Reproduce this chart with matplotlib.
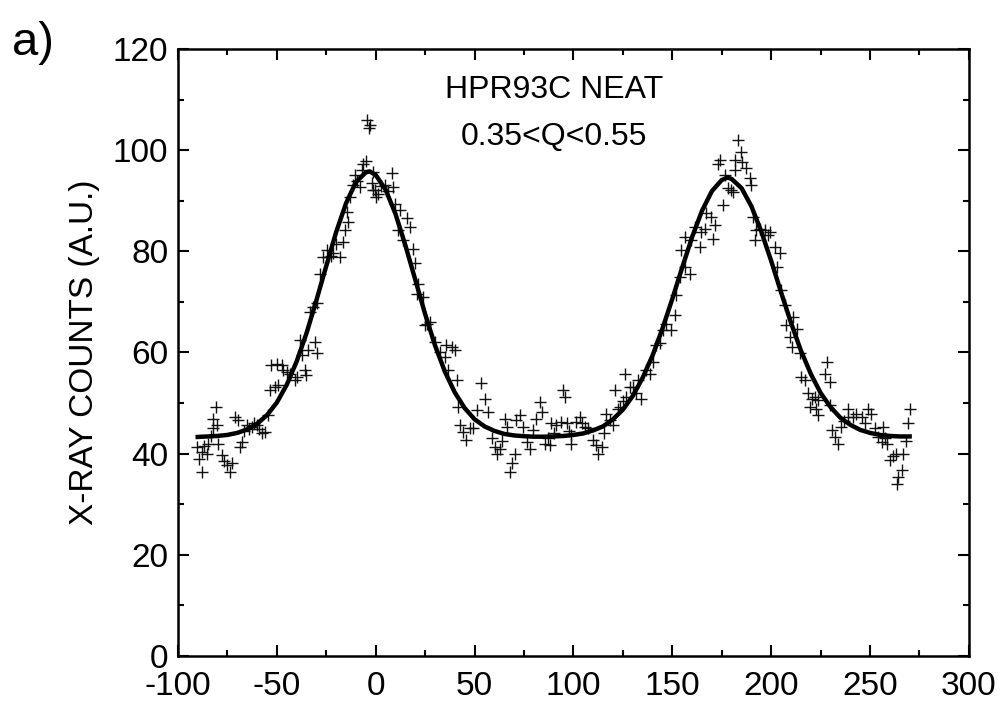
import matplotlib
matplotlib.use("Agg")
import matplotlib.pyplot as plt
from matplotlib.ticker import MultipleLocator

plt.rcParams['font.family'] = ['Liberation Sans', 'DejaVu Sans']
plt.rcParams['axes.unicode_minus'] = False

# measured points (scan angle, counts)
scan_x = [
    -90.6, -89.5, -88.0, -88.0, -86.8, -85.5, -84.7, -83.5, -82.1, -82.1,
    -80.8, -80.5, -79.6, -77.9, -76.5, -75.4, -73.7, -72.9, -71.2, -69.5,
    -68.7, -67.8, -66.5, -65.3, -64.0, -62.8, -61.5, -60.2, -59.0, -57.7,
    -56.0, -54.3, -53.5, -52.7, -51.0, -50.1, -49.3, -47.6, -46.8, -45.1,
    -43.4, -40.9, -40.0, -38.3, -37.5, -35.8, -35.0, -34.1, -33.3, -31.6,
    -30.7, -29.9, -29.9, -28.2, -26.5, -24.8, -24.0, -22.8, -21.5, -20.0,
    -18.1, -16.4, -15.6, -14.7, -13.9, -13.1, -11.4, -10.5, -9.5, -8.0,
    -7.0, -6.3, -5.0, -4.4, -3.5, -2.9, -2.0, -1.3, -1.2, -0.4,
    0.4, 1.3, 2.5, 4.7, 6.0, 8.0, 8.9, 9.7, 11.4, 12.2,
    13.9, 15.6, 17.3, 19.0, 19.8, 20.7, 21.5, 24.0, 24.9, 25.7,
    27.5, 30.0, 32.5, 35.0, 35.8, 36.7, 38.4, 40.0, 40.9, 41.7,
    42.6, 44.3, 45.9, 47.6, 49.3, 51.0, 53.5, 55.2, 56.9, 58.6,
    60.3, 61.1, 62.8, 64.0, 65.3, 66.2, 67.8, 68.7, 70.4, 71.2,
    72.9, 74.6, 76.3, 77.9, 79.6, 81.3, 83.0, 83.9, 85.5, 87.0,
    88.1, 88.9, 90.0, 91.4, 93.9, 94.8, 95.6, 96.5, 97.5, 99.0,
    99.0, 101.5, 103.2, 104.1, 105.7, 107.4, 109.9, 111.6, 112.5, 114.2,
    115.5, 116.7, 118.4, 120.1, 120.9, 122.6, 123.4, 125.0, 126.0, 126.8,
    128.5, 130.2, 131.5, 132.7, 134.4, 136.9, 138.6, 140.3, 142.0, 143.7,
    145.3, 147.0, 149.5, 151.2, 152.1, 153.8, 154.6, 156.3, 156.3, 158.8,
    159.7, 161.3, 163.9, 164.7, 166.4, 167.2, 169.8, 170.6, 171.5, 173.1,
    174.0, 175.7, 176.5, 178.0, 179.9, 180.7, 181.6, 181.6, 183.1, 184.6,
    185.0, 187.5, 189.2, 190.0, 190.9, 191.7, 192.5, 194.3, 196.8, 198.5,
    199.3, 201.8, 202.7, 204.4, 205.2, 206.9, 207.7, 209.4, 210.3, 211.1,
    212.8, 214.5, 215.3, 217.0, 218.7, 219.5, 220.4, 222.1, 222.9, 223.7,
    223.7, 227.1, 228.0, 229.6, 229.6, 230.5, 232.2, 233.9, 235.5, 237.0,
    238.9, 238.9, 241.4, 243.1, 245.7, 247.3, 249.0, 250.7, 252.5, 254.1,
    255.8, 256.6, 257.4, 258.5, 260.0, 261.5, 263.3, 263.5, 264.2, 265.9,
    266.7, 268.0, 269.2, 270.1,
]
counts = [
    41.3, 39.0, 40.4, 36.4, 41.5, 40.0, 42.0, 43.5, 45.0, 46.9,
    49.3, 45.6, 42.0, 39.7, 38.5, 37.7, 36.4, 38.1, 47.3, 46.6,
    41.3, 42.3, 44.5, 45.6, 44.8, 45.3, 46.0, 45.6, 44.8, 44.0,
    44.3, 47.6, 52.5, 57.5, 53.2, 57.8, 53.5, 57.5, 56.5, 56.2,
    55.8, 54.5, 55.2, 62.4, 59.5, 56.5, 55.5, 60.5, 68.0, 69.0,
    62.1, 59.8, 69.7, 75.6, 78.9, 80.2, 78.9, 79.0, 79.6, 81.5,
    78.9, 81.9, 84.2, 87.8, 85.8, 90.8, 93.1, 95.0, 94.0, 92.7,
    96.0, 97.3, 97.8, 105.9, 104.3, 105.0, 93.5, 92.1, 95.7, 92.1,
    90.8, 91.4, 93.0, 93.1, 92.0, 95.4, 92.7, 89.4, 84.2, 88.1,
    82.2, 86.5, 84.8, 80.5, 77.6, 71.6, 73.6, 71.0, 65.4, 65.7,
    66.0, 62.0, 60.0, 59.1, 61.4, 56.5, 61.1, 60.5, 54.5, 49.3,
    45.6, 44.3, 42.7, 45.0, 45.0, 48.6, 53.9, 50.9, 48.3, 43.0,
    41.3, 40.0, 41.0, 42.5, 46.9, 45.3, 36.4, 38.1, 40.0, 46.6,
    47.6, 45.3, 42.3, 41.0, 44.6, 46.9, 50.2, 48.3, 42.0, 43.0,
    41.7, 46.0, 44.0, 45.6, 46.3, 52.5, 51.2, 46.0, 44.5, 43.7,
    42.0, 46.3, 47.3, 46.0, 45.3, 45.0, 42.7, 41.7, 40.0, 41.3,
    44.0, 47.9, 46.6, 45.6, 52.5, 48.9, 49.3, 50.5, 55.8, 51.2,
    53.2, 53.2, 52.0, 54.5, 50.9, 56.5, 55.8, 58.1, 61.4, 61.8,
    64.4, 65.7, 64.4, 67.4, 71.3, 74.9, 80.2, 76.9, 82.8, 75.6,
    82.2, 84.8, 80.9, 83.8, 84.5, 87.5, 86.8, 82.5, 85.2, 97.3,
    98.0, 89.1, 95.0, 92.5, 92.1, 91.7, 96.0, 98.0, 102.0, 99.6,
    97.7, 96.4, 94.4, 93.1, 86.8, 82.2, 84.2, 84.5, 84.2, 83.2,
    83.8, 80.9, 76.9, 79.6, 72.3, 69.3, 65.4, 63.1, 61.1, 67.0,
    64.7, 59.8, 55.2, 54.5, 51.9, 49.3, 50.9, 51.2, 48.9, 50.6,
    47.6, 55.8, 58.1, 54.2, 49.6, 44.6, 43.3, 42.0, 45.3, 46.5,
    48.9, 47.3, 47.3, 47.9, 47.3, 46.0, 48.9, 47.9, 45.0, 43.3,
    42.3, 45.3, 43.0, 42.0, 38.7, 39.5, 40.0, 34.0, 35.4, 36.7,
    40.0, 42.5, 46.0, 48.9,
]

# fitted curve
fit_x = [-90, -85, -80, -75, -70, -65, -60, -55, -50, -45, -40, -35, -30,
         -25, -20, -15, -10, -5, -3, 0, 5, 10, 15, 20, 25, 30, 35, 40, 45,
         50, 55, 60, 65, 70, 75, 80, 85, 90, 95, 100, 105, 110, 115, 120,
         125, 130, 135, 140, 145, 150, 155, 160, 165, 170, 175, 178, 180,
         185, 190, 195, 200, 205, 210, 215, 220, 225, 230, 235, 240, 245,
         250, 255, 260, 265, 270]
fit_y = [43.3, 43.4, 43.5, 43.7, 44.1, 44.8, 45.9, 47.6, 50.1, 53.6, 58.2,
         63.8, 70.3, 77.1, 83.8, 89.5, 93.7, 95.6, 95.8, 95.1, 92.2, 87.4,
         81.2, 74.4, 67.6, 61.4, 56.2, 52.1, 49.0, 46.8, 45.4, 44.5, 43.9,
         43.6, 43.45, 43.35, 43.35, 43.4, 43.5, 43.7, 44.0, 44.6, 45.4,
         46.8, 48.7, 51.4, 55.0, 59.4, 64.7, 70.6, 76.8, 82.8, 88.0, 91.9,
         94.1, 94.6, 94.3, 92.5, 88.9, 83.9, 78.1, 71.9, 65.9, 60.4, 55.8,
         52.0, 49.2, 47.1, 45.7, 44.7, 44.1, 43.7, 43.5, 43.4, 43.4]

fig = plt.figure(figsize=(10.02, 7.03), dpi=100)
ax = fig.add_axes([0.1776, 0.0669, 0.7894, 0.8634])

ax.plot(scan_x, counts, linestyle='none', marker='+', markersize=8.5,
        markeredgewidth=1.0, color='#111111')
ax.plot(fit_x, fit_y, color='black', linewidth=3.2)

ax.set_xlim(-100, 300)
ax.set_ylim(0, 120)
ax.xaxis.set_major_locator(MultipleLocator(50))
ax.xaxis.set_minor_locator(MultipleLocator(25))
ax.yaxis.set_major_locator(MultipleLocator(20))
ax.yaxis.set_minor_locator(MultipleLocator(10))
ax.tick_params(which='both', direction='in', top=True, right=True,
               width=1.5, labelsize=24)
ax.tick_params(axis='y', pad=7)
ax.tick_params(axis='x', pad=11)
ax.tick_params(which='major', length=8)
ax.tick_params(which='minor', length=4.5)
for s in ax.spines.values():
    s.set_linewidth(1.8)

ax.set_ylabel('X-RAY COUNTS (A.U.)', fontsize=24, labelpad=9)

ax.text(90, 111.9, 'HPR93C NEAT', fontsize=23, ha='center', va='center')
ax.text(90, 102.6, '0.35<Q<0.55', fontsize=23, ha='center', va='center')

fig.text(0.012, 0.97, 'a)', fontsize=34, ha='left', va='top')

fig.savefig('out.png', dpi=100)
